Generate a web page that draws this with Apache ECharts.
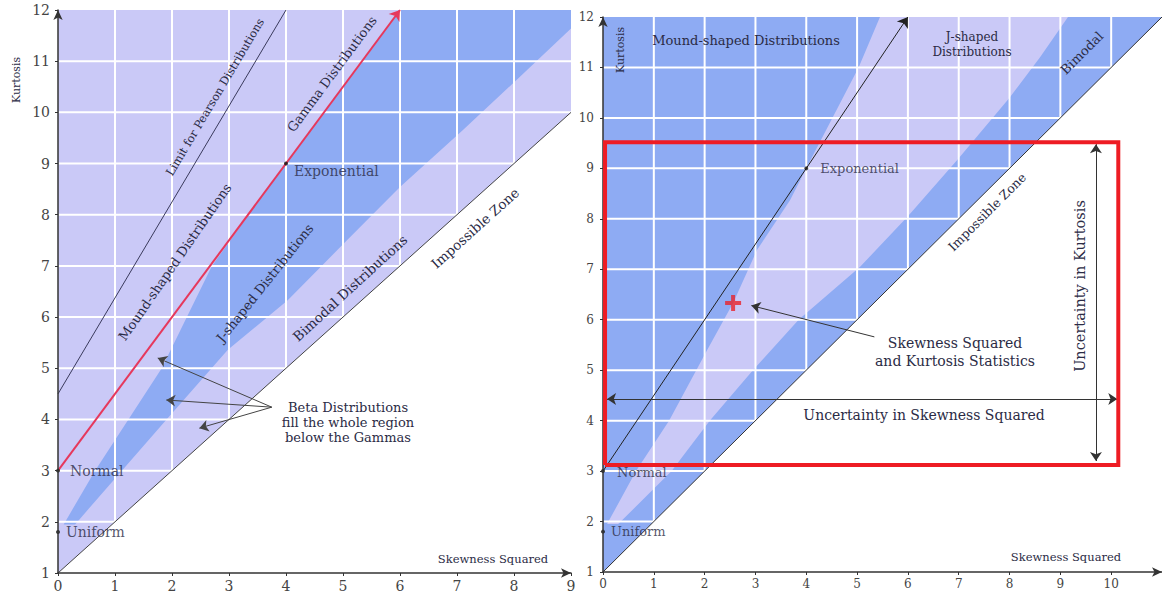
<!DOCTYPE html>
<html>
<head>
<meta charset="utf-8">
<script src="https://cdn.jsdelivr.net/npm/echarts@6/dist/echarts.min.js"></script>
<style>html,body{margin:0;padding:0;background:#fff}#c{width:1162px;height:594px}</style>
</head>
<body>
<div id="c"></div>
<script>
// ---------- data (skewness squared, kurtosis) ----------
const leftFeasible   = [[0,1],[0,12],[9,12],[9,10]];
const leftJBand      = [[0.1,1.95],[0.65,3.0],[1.82,5.0],[2.7,7.0],[3.54,8.3],[6,12],[9,12],[9,11.64],
                        [8.1,10.69],[7.1,9.65],[6.0,8.54],[5.07,7.5],[4.03,6.33],[2.98,5.36],[2.0,4.12],[1.12,3.0],[0.3,1.95]];
const rightFeasible  = [[0,1],[0,12],[11,12]];
const rightJBand     = [[0.08,1.95],[0.65,3.0],[1.3,4.0],[2.05,5.4],[2.56,6.33],[3.03,7.38],[3.68,8.37],[4.0,9.0],[5.03,11.0],[5.45,12],
                        [9.15,12],[8.6,11.2],[8.0,10.4],[7.0,9.2],[6.0,8.05],[5.06,7.05],[3.85,6.0],[2.95,5.0],[2.1,4.0],[1.35,3.0],[0.3,1.95]];
const impossibleLeft  = [[0,1],[9,10]];
const impossibleRight = [[0,1],[11,12]];
const pearsonLimit    = [[0,4.5],[4,12]];
const gammaLine       = [[0,3],[6,12]];
const pointNames      = ['Normal','Uniform','Exponential'];
const pointValues     = [[0,3],[0,1.8],[4,9]];
const betaArrowTail   = [3.75,4.24];
const betaArrowTips   = [[1.75,5.2],[1.9,4.38],[2.48,3.83]];
const statPoint       = [2.56,6.33];
const statArrow       = [[5.34,5.66],[2.92,6.28]];
const uncSkew         = [0.04,10.14];
const uncKurt         = [3.12,9.52];
const skewArrow       = [[0.08,4.43],[10.12,4.43]];
const kurtArrow       = [[9.7,3.2],[9.7,9.48]];
const leftXGrid  = [1,2,3,4,5,6,7,8];
const leftYGrid  = [2,3,4,5,6,7,8,9,10,11];
const rightXGrid = [1,2,3,4,5,6,7,8,9,10];
const rightYGrid = [2,3,4,5,6,7,8,9,10,11];

// ---------- styles ----------
const LAV = '#cac9f7', BLUE = '#8eabf3', INK = '#2b2b45', AX = '#333';
const SERIF = '"DejaVu Serif", serif';

function polygon(gi, pts, fill, z) {
  return { type:'custom', coordinateSystem:'cartesian2d', xAxisIndex:gi, yAxisIndex:gi, z, silent:true, data:pts,
    renderItem(params, api) {
      if (params.dataIndex !== 0) return {type:'group', children:[]};
      return { type:'polygon', shape:{ points: pts.map(p => api.coord(p)) }, style:{ fill } };
    } };
}
function gridV(gi, xs, yr) {
  return { type:'custom', coordinateSystem:'cartesian2d', xAxisIndex:gi, yAxisIndex:gi, z:2, silent:true,
    data: xs.map(v => [v, yr[0]]),
    renderItem(params, api) {
      const a = api.coord([api.value(0), yr[0]]), b = api.coord([api.value(0), yr[1]]);
      return { type:'line', shape:{x1:a[0], y1:a[1]-1, x2:b[0], y2:b[1]}, style:{stroke:'#fff', lineWidth:2} };
    } };
}
function gridH(gi, ys, xr) {
  return { type:'custom', coordinateSystem:'cartesian2d', xAxisIndex:gi, yAxisIndex:gi, z:2, silent:true,
    data: ys.map(v => [xr[0], v]),
    renderItem(params, api) {
      const a = api.coord([xr[0], api.value(1)]), b = api.coord([xr[1], api.value(1)]);
      return { type:'line', shape:{x1:a[0]+1, y1:a[1], x2:b[0], y2:b[1]}, style:{stroke:'#fff', lineWidth:2} };
    } };
}
function seg(gi, segs, color, width, symbol, size, z) {
  return { type:'lines', coordinateSystem:'cartesian2d', xAxisIndex:gi, yAxisIndex:gi, z: z || 5, silent:true,
    symbol: symbol || ['none','none'], symbolSize: size || 8,
    lineStyle:{ color, width, opacity:1 }, data: segs.map(c => ({ coords:c })) };
}
function points(gi, idx, labelCfg) {
  return { type:'scatter', xAxisIndex:gi, yAxisIndex:gi, z:6, symbolSize:4, itemStyle:{color:'#111'}, silent:true,
    data: idx.map((i, k) => ({ name: pointNames[i], value: pointValues[i], label: labelCfg[k] })),
    label:{ show:true, formatter:'{b}', position:'right', fontFamily:SERIF, color:INK } };
}
function xAx(gi, max, fs) {
  return { type:'value', gridIndex:gi, min:0, max, interval:1, z:7,
    axisLine:{ show:true, symbol:['none','arrow'], symbolSize:[7,10], lineStyle:{color:AX, width:1.5} },
    axisTick:{ show:true, length:3, lineStyle:{color:AX} },
    axisLabel:{ fontFamily:SERIF, fontSize:fs, color:'#444', margin:6, showMaxLabel: max === 9 },
    splitLine:{ show:false } };
}
function yAx(gi, fs, margin) {
  return { type:'value', gridIndex:gi, min:1, max:12, interval:1, z:7,
    axisLine:{ show:true, symbol:['none','arrow'], symbolSize:[7,10], lineStyle:{color:AX, width:1.5} },
    axisTick:{ show:true, length:3, lineStyle:{color:AX} },
    axisLabel:{ fontFamily:SERIF, fontSize:fs, color:'#444', margin },
    splitLine:{ show:false } };
}
function txt(text, x, y, size, rotDeg, extra) {
  return Object.assign({ type:'text', x, y, z:100, rotation:(rotDeg||0)*Math.PI/180, silent:true,
    style:{ text, font: size + 'px ' + SERIF, fill: INK, align:'center', verticalAlign:'middle',
            textAlign:'center', textVerticalAlign:'middle' } }, extra || {});
}

const rectPts = [[uncSkew[0],uncKurt[0]],[uncSkew[1],uncKurt[0]],[uncSkew[1],uncKurt[1]],[uncSkew[0],uncKurt[1]],[uncSkew[0],uncKurt[0]]];

const option = {
  animation:false,
  backgroundColor:'#fff',
  grid:[ {left:58, top:10, width:513, height:563}, {left:603, top:17, width:559, height:555} ],
  xAxis:[ xAx(0, 9, 14), xAx(1, 11, 12) ],
  yAxis:[ yAx(0, 14, 8), yAx(1, 12, 9) ],
  series:[
    polygon(0, leftFeasible, LAV, 1),
    polygon(0, leftJBand, BLUE, 1),
    gridV(0, leftXGrid, [1,12]), gridH(0, leftYGrid, [0,9]),
    seg(0, [impossibleLeft], '#444', 1),
    seg(0, [pearsonLimit], '#3a3a5c', 1),
    seg(0, [gammaLine], '#e6385c', 2, ['none','arrow'], 10),
    seg(0, betaArrowTips.map(t => [betaArrowTail, t]), '#444', 1, ['none','arrow'], 9),
    points(0, [0,1,2], [ {distance:10, fontSize:14}, {distance:6, fontSize:14}, {distance:6, fontSize:14, offset:[0,7]} ]),

    polygon(1, rightFeasible, BLUE, 1),
    polygon(1, rightJBand, LAV, 1),
    gridV(1, rightXGrid, [1,12]), gridH(1, rightYGrid, [0,11]),
    seg(1, [impossibleRight], '#333', 1),
    seg(1, [gammaLine], '#222', 1, ['none','arrow'], 10),
    seg(1, [statArrow], '#333', 1, ['none','arrow'], 9),
    seg(1, [skewArrow, kurtArrow], '#333', 1, ['arrow','arrow'], 9),
    points(1, [0,1,2], [ {distance:12, fontSize:13, offset:[0,1]}, {distance:6, fontSize:13}, {distance:12, fontSize:13} ]),
    { type:'line', xAxisIndex:1, yAxisIndex:1, z:8, silent:true, symbol:'none', data:rectPts,
      lineStyle:{ color:'#ee1c24', width:4, join:'miter' } },
    { type:'scatter', xAxisIndex:1, yAxisIndex:1, z:9, silent:true, data:[statPoint], symbolSize:16,
      symbol:'path://M6,0h4v6h6v4h-6v6h-4v-6h-6v-4h6z', itemStyle:{ color:'#e8232a' } }
  ],
  graphic:[
    txt('Kurtosis', 16, 80, 11, 90),
    txt('Limit for Pearson Distributions', 215, 97, 11.5, 59.3),
    txt('Gamma Distributions', 332, 74, 13, 53.4),
    txt('Mound-shaped Distributions', 175, 262, 13, 55.3),
    txt('J-shaped Distributions', 265, 283, 13, 51.5),
    txt('Bimodal Distributions', 350, 288, 13.5, 42.6),
    txt('Impossible Zone', 475, 228, 13.5, 42),
    txt('Beta Distributions', 348, 407, 13),
    txt('fill the whole region', 348, 422, 13),
    txt('below the Gammas', 348, 437, 13),
    txt('Skewness Squared', 493, 559, 11.5),

    txt('Kurtosis', 620, 50, 11, 90),
    txt('Mound-shaped Distributions', 746, 40, 13),
    txt('J-shaped', 972, 37, 12),
    txt('Distributions', 972, 52, 12),
    txt('Bimodal', 1082, 53, 13, 45),
    txt('Impossible Zone', 987, 212, 12.5, 45),
    txt('Skewness Squared', 955, 343, 14),
    txt('and Kurtosis Statistics', 955, 361, 14),
    txt('Uncertainty in Skewness Squared', 924, 415, 14),
    txt('Uncertainty in Kurtosis', 1080, 286, 14.5, 90),
    txt('Skewness Squared', 1066, 557, 11.5)
  ]
};
const chart = echarts.init(document.getElementById('c'), null, { renderer:'svg' });
chart.setOption(option);
</script>
</body>
</html>
